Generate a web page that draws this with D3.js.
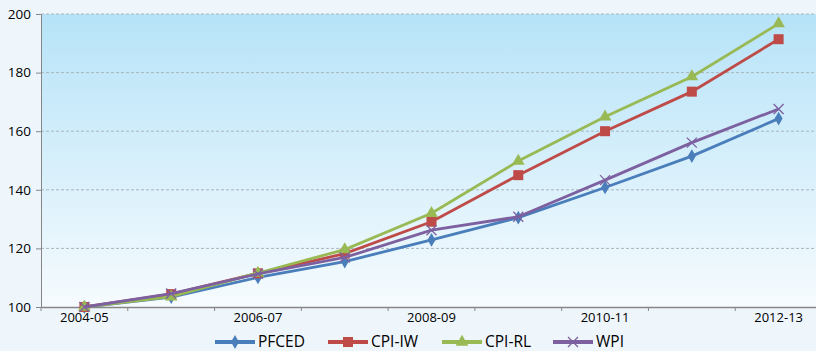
<html>
<head>
<script src="https://d3js.org/d3.v7.min.js"></script>
<style>
  body { margin:0; background:#eef6fc; }
  svg { display:block; font-family:"Open Sans", "Noto Sans", sans-serif; }
</style>
</head>
<body>
<svg id="chart" width="816" height="351"></svg>
<script>
var years = ["2004-05","2005-06","2006-07","2007-08","2008-09","2009-10","2010-11","2011-12","2012-13"];
var shownYears = ["2004-05","2006-07","2008-09","2010-11","2012-13"];
var yTicks = [100,120,140,160,180,200];

var pfced = [100, 103.4, 110.1, 115.5, 122.9, 130.5, 140.8, 151.5, 164.3];
var cpiIw = [100, 104.4, 111.5, 118.2, 129.1, 145.0, 160.0, 173.5, 191.4];
var cpiRl = [100, 103.5, 111.6, 119.6, 132.0, 149.8, 164.9, 178.6, 196.7];
var wpi   = [100, 104.6, 111.3, 116.9, 126.2, 130.8, 143.3, 156.1, 167.6];

var series = [
  {name:"PFCED",  values:pfced, color:"#4a7ebb", shape:"diamond"},
  {name:"CPI-IW", values:cpiIw, color:"#be4b48", shape:"square"},
  {name:"CPI-RL", values:cpiRl, color:"#98b954", shape:"triangle"},
  {name:"WPI",    values:wpi,   color:"#7d60a0", shape:"cross"}
];

var plotLeft = 41, plotTop = 14, plotBottom = 307, plotRight = 822;
var svg = d3.select("#chart");

var x = d3.scaleBand().domain(years).range([plotLeft, plotRight]);
var y = d3.scaleLinear().domain([100,200]).range([plotBottom, plotTop]);

// plot background gradient
var grad = svg.append("defs").append("linearGradient")
  .attr("id","bg").attr("x1",0).attr("y1",0).attr("x2",0).attr("y2",1);
grad.append("stop").attr("offset","0%").attr("stop-color","#b6e3f8");
grad.append("stop").attr("offset","100%").attr("stop-color","#f6fbfe");
svg.append("rect")
  .attr("x",plotLeft).attr("y",plotTop)
  .attr("width",plotRight-plotLeft).attr("height",plotBottom-plotTop)
  .attr("fill","url(#bg)");

// grid lines
svg.append("g").selectAll("line")
  .data(yTicks.slice(1))
  .join("line")
    .attr("x1",plotLeft).attr("x2",816)
    .attr("y1",function(d){ return y(d); }).attr("y2",function(d){ return y(d); })
    .attr("stroke","#a9b6bd").attr("stroke-width",1).attr("stroke-dasharray","3,2");

// y axis
var yAxis = svg.append("g")
  .attr("transform","translate(" + plotLeft + ",0)")
  .call(d3.axisLeft(y).tickValues(yTicks).tickSize(5).tickSizeOuter(0).tickPadding(5));
yAxis.select(".domain").attr("stroke","#868686");
yAxis.selectAll(".tick line").attr("stroke","#868686");
yAxis.selectAll("text").attr("font-size",13.5).attr("fill","#000")
  .attr("font-family","'Open Sans', sans-serif");

// x axis
var xAxis = svg.append("g")
  .attr("transform","translate(0," + plotBottom + ")")
  .call(d3.axisBottom(x).tickValues(shownYears).tickSize(0).tickPadding(6));
xAxis.select(".domain").attr("stroke","#868686").attr("stroke-width",1.3);
xAxis.selectAll("text").attr("font-size",13).attr("fill","#000")
  .attr("font-family","'Open Sans', sans-serif");
// category boundary ticks
svg.append("g").selectAll("line")
  .data(years)
  .join("line")
    .attr("x1",function(d){ return x(d); }).attr("x2",function(d){ return x(d); })
    .attr("y1",plotBottom).attr("y2",plotBottom+4)
    .attr("stroke","#868686");

function marker(g, shape, color, cx, cy) {
  if (shape == "diamond") {
    g.append("path").attr("d", d3.symbol().type(d3.symbolDiamond).size(55)())
      .attr("transform","translate(" + cx + "," + cy + ")").attr("fill",color);
  } else if (shape == "square") {
    g.append("rect").attr("x",cx-5).attr("y",cy-5).attr("width",10).attr("height",10)
      .attr("fill",color);
  } else if (shape == "triangle") {
    g.append("path").attr("d", d3.symbol().type(d3.symbolTriangle).size(70)())
      .attr("transform","translate(" + cx + "," + cy + ")").attr("fill",color);
  } else {
    g.append("path").attr("d","M-5,-5L5,5M-5,5L5,-5")
      .attr("transform","translate(" + cx + "," + cy + ")")
      .attr("stroke",color).attr("stroke-width",1.3).attr("fill","none");
  }
}

var line = d3.line()
  .x(function(d,i){ return x(years[i]) + x.bandwidth()/2; })
  .y(function(d){ return y(d); });

series.forEach(function(s) {
  var g = svg.append("g");
  g.append("path")
    .datum(s.values)
    .attr("fill","none")
    .attr("stroke",s.color)
    .attr("stroke-width",2.8)
    .attr("d",line);
  s.values.forEach(function(v,i) {
    marker(g, s.shape, s.color, x(years[i]) + x.bandwidth()/2, y(v));
  });
});

// legend
var legendX = [215, 328, 442, 553];
var legend = svg.append("g");
series.forEach(function(s,i) {
  var lx = legendX[i], ly = 342;
  legend.append("line")
    .attr("x1",lx).attr("x2",lx+40).attr("y1",ly).attr("y2",ly)
    .attr("stroke",s.color).attr("stroke-width",4);
  marker(legend, s.shape, s.color, lx+20, ly);
  legend.append("text")
    .attr("x",lx+43).attr("y",ly+4.5)
    .attr("font-size",15.5).attr("fill","#000")
    .text(s.name);
});
</script>
</body>
</html>
